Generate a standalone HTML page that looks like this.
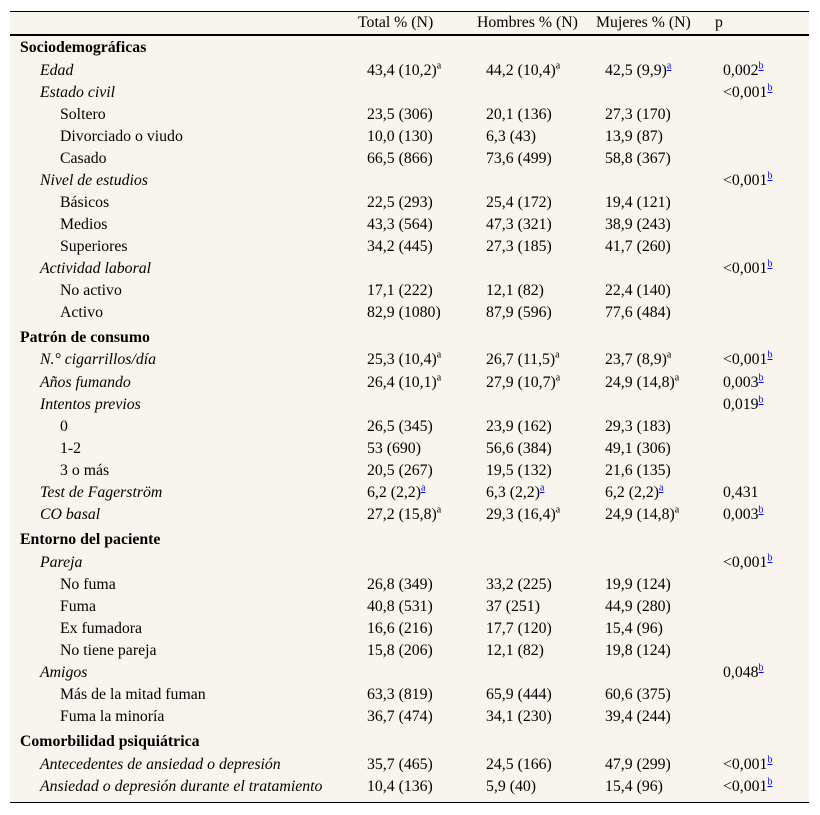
<!DOCTYPE html>
<html><head><meta charset="utf-8">
<style>
body{margin:0;background:#fff;width:820px;height:815px;position:relative;font-family:"Liberation Serif",serif;font-size:15.8px;color:#000}
#tbl{position:absolute;left:10px;top:11px;width:799px;height:790px;background:#f8f5ef;border-top:1px solid #000;border-bottom:1px solid #000}
.c{position:absolute;white-space:nowrap;line-height:18px}
.b{font-weight:bold}.i{font-style:italic}
sup{font-size:10px;line-height:0}
a{color:#00e;text-decoration:underline}
#hl{position:absolute;left:0;top:22px;width:799px;height:2px;background:#000}
</style></head><body>
<div id="tbl">
<div id="hl"></div>
<div class="c" style="left:348px;top:2px">Total % (N)</div>
<div class="c" style="left:467px;top:2px">Hombres % (N)</div>
<div class="c" style="left:586px;top:2px">Mujeres % (N)</div>
<div class="c" style="left:705px;top:2px">p</div>
</div>
<script>
// [y-center, level(0 section,1 italic,2 sub), label, total, hombres, mujeres, p]
const rows=[
[47,0,"Sociodemográficas"],
[70,1,"Edad","43,4 (10,2)<sup>a</sup>","44,2 (10,4)<sup>a</sup>","42,5 (9,9)<sup><a>a</a></sup>","0,002<sup><a>b</a></sup>"],
[92,1,"Estado civil","","","","&lt;0,001<sup><a>b</a></sup>"],
[114,2,"Soltero","23,5 (306)","20,1 (136)","27,3 (170)",""],
[136,2,"Divorciado o viudo","10,0 (130)","6,3 (43)","13,9 (87)",""],
[158,2,"Casado","66,5 (866)","73,6 (499)","58,8 (367)",""],
[180,1,"Nivel de estudios","","","","&lt;0,001<sup><a>b</a></sup>"],
[202,2,"Básicos","22,5 (293)","25,4 (172)","19,4 (121)",""],
[224,2,"Medios","43,3 (564)","47,3 (321)","38,9 (243)",""],
[246,2,"Superiores","34,2 (445)","27,3 (185)","41,7 (260)",""],
[268,1,"Actividad laboral","","","","&lt;0,001<sup><a>b</a></sup>"],
[290,2,"No activo","17,1 (222)","12,1 (82)","22,4 (140)",""],
[312,2,"Activo","82,9 (1080)","87,9 (596)","77,6 (484)",""],
[337,0,"Patrón de consumo"],
[359,1,"N.° cigarrillos/día","25,3 (10,4)<sup>a</sup>","26,7 (11,5)<sup>a</sup>","23,7 (8,9)<sup>a</sup>","&lt;0,001<sup><a>b</a></sup>"],
[382,1,"Años fumando","26,4 (10,1)<sup>a</sup>","27,9 (10,7)<sup>a</sup>","24,9 (14,8)<sup>a</sup>","0,003<sup><a>b</a></sup>"],
[404,1,"Intentos previos","","","","0,019<sup><a>b</a></sup>"],
[426,2,"0","26,5 (345)","23,9 (162)","29,3 (183)",""],
[448,2,"1-2","53 (690)","56,6 (384)","49,1 (306)",""],
[470,2,"3 o más","20,5 (267)","19,5 (132)","21,6 (135)",""],
[492,1,"Test de Fagerström","6,2 (2,2)<sup><a>a</a></sup>","6,3 (2,2)<sup><a>a</a></sup>","6,2 (2,2)<sup><a>a</a></sup>","0,431"],
[514,1,"CO basal","27,2 (15,8)<sup>a</sup>","29,3 (16,4)<sup>a</sup>","24,9 (14,8)<sup>a</sup>","0,003<sup><a>b</a></sup>"],
[539,0,"Entorno del paciente"],
[562,1,"Pareja","","","","&lt;0,001<sup><a>b</a></sup>"],
[584,2,"No fuma","26,8 (349)","33,2 (225)","19,9 (124)",""],
[606,2,"Fuma","40,8 (531)","37 (251)","44,9 (280)",""],
[628,2,"Ex fumadora","16,6 (216)","17,7 (120)","15,4 (96)",""],
[650,2,"No tiene pareja","15,8 (206)","12,1 (82)","19,8 (124)",""],
[672,1,"Amigos","","","","0,048<sup><a>b</a></sup>"],
[694,2,"Más de la mitad fuman","63,3 (819)","65,9 (444)","60,6 (375)",""],
[716,2,"Fuma la minoría","36,7 (474)","34,1 (230)","39,4 (244)",""],
[741,0,"Comorbilidad psiquiátrica"],
[764,1,"Antecedentes de ansiedad o depresión","35,7 (465)","24,5 (166)","47,9 (299)","&lt;0,001<sup><a>b</a></sup>"],
[786,1,"Ansiedad o depresión durante el tratamiento","10,4 (136)","5,9 (40)","15,4 (96)","&lt;0,001<sup><a>b</a></sup>"]
];
const tbl=document.getElementById('tbl');
const labelX=[10,30,50];
const colX=[357,476,595,713];
rows.forEach((r,k)=>{
  const top=r[0]-11-9;
  const lab=document.createElement('div');
  lab.className='c'+(r[1]===0?' b':r[1]===1?' i':'');
  lab.style.left=labelX[r[1]]+'px';lab.style.top=top+'px';
  lab.innerHTML=r[2];
  
  
  tbl.appendChild(lab);
  for(let j=0;j<4;j++){
    const v=r[3+j];
    if(!v) continue;
    const d=document.createElement('div');
    d.className='c';
    d.style.left=colX[j]+'px';d.style.top=top+'px';
    d.innerHTML=v;
    
    
    tbl.appendChild(d);
  }
});
</script>
</body></html>
